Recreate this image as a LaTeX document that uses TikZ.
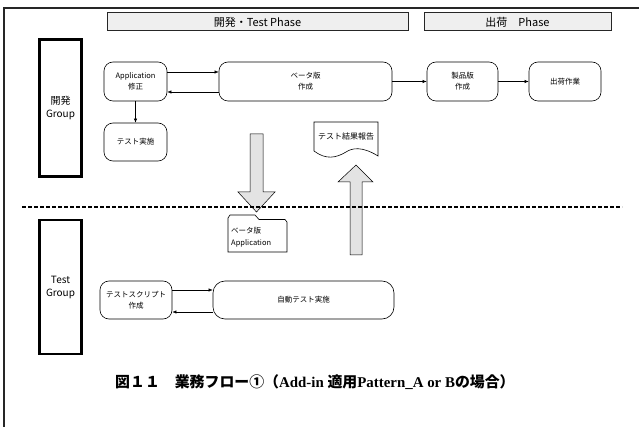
\documentclass[tikz,border=0pt]{standalone}
\usepackage{fontspec}
\setmainfont{Noto Sans CJK JP}
\newfontfamily\capserif{Liberation Serif}
\newfontfamily\capjp{Noto Sans CJK JP}
\usetikzlibrary{arrows.meta}
\definecolor{hdrgray}{HTML}{EFEFEF}
\definecolor{blkgray}{HTML}{E3E3E3}
\begin{document}
\begin{tikzpicture}[x=1pt,y=-1pt,
  proc/.style={draw, line width=0.6pt, rounded corners=9pt, align=center,
    font=\fontsize{7.5}{11}\selectfont, inner sep=0pt},
  grp/.style={draw, line width=2.8pt, align=center,
    font=\fontsize{10}{13}\selectfont, inner sep=0pt},
  hdr/.style={draw=black!85, fill=hdrgray, line width=1pt,
    font=\fontsize{11}{13}\selectfont, inner sep=0pt},
  flow/.style={-{Latex[length=4pt,width=3.2pt]}, line width=0.5pt},
  blk/.style={draw, fill=blkgray, line width=0.5pt},
  small/.style={font=\fontsize{7.5}{10}\selectfont, inner sep=0pt}
]
\useasboundingbox (0,0) rectangle (639,427);
% frame
\draw[line width=2pt, black!85] (4,427) -- (4,8) -- (639,8);

% phase headers
\node[hdr, minimum width=301pt, minimum height=18pt] (ph1) at (257.5,22) {開発・Test Phase};
\node[hdr, minimum width=187pt, minimum height=18pt] (ph2) at (517.5,22) {出荷　Phase};

% groups
\node[grp, minimum width=42pt, minimum height=137pt] (g1) at (60.5,108) {開発\\Group};
\node[grp, minimum width=42pt, minimum height=134pt] (g2) at (60.5,287) {Test\\Group};

% process boxes
\node[proc, minimum width=63pt, minimum height=39pt] (app) at (135.5,81.5) {Application\\修正};
\node[proc, minimum width=173pt, minimum height=39pt] (beta) at (305.5,81.5) {ベータ版\\作成};
\node[proc, minimum width=71pt, minimum height=39pt] (prod) at (462.5,81.5) {製品版\\作成};
\node[proc, minimum width=72pt, minimum height=39pt] (ship) at (565,81.5) {出荷作業};
\node[proc, minimum width=63pt, minimum height=38pt] (texec) at (135.5,142) {テスト実施};
\node[proc, minimum width=72pt, minimum height=38pt] (script) at (136,300) {テストスクリプト\\作成};
\node[proc, minimum width=181pt, minimum height=38pt, rounded corners=12pt] (auto) at (303.5,300) {自動テスト実施};

% connectors
\draw[flow] ([yshift=9.5pt]app.east) -- ([yshift=9.5pt]beta.west);
\draw[flow] ([yshift=-10.5pt]beta.west) -- ([yshift=-10.5pt]app.east);
\draw[flow] (app.south) -- (texec.north);
\draw[flow] (beta.east) -- (prod.west);
\draw[flow] (prod.east) -- (ship.west);
\draw[flow] ([yshift=10pt]script.east) -- ([yshift=10pt]auto.west);
\draw[flow] ([yshift=-12pt]auto.west) -- ([yshift=-12pt]script.east);

% document shape
\draw[line width=0.6pt, fill=white] (314,151) -- (314,122) -- (378,122) -- (378,156)
  .. controls (362,146) and (352,148) .. (346,152)
  .. controls (336,158) and (326,160) .. (314,151) -- cycle;
\node[small, font=\fontsize{8}{10}\selectfont] (rep) at (346,136) {テスト結果報告};

% folder shape
\draw[line width=0.6pt, fill=white] (228,252) -- (228,218) -- (230,215) -- (255,215)
  -- (259,219.5) -- (285,219.5) -- (287,222) -- (287,252) -- cycle;
\node[small, anchor=west] (fold1) at (231,231) {ベータ版};
\node[small, anchor=west] (fold2) at (231,243) {Application};

% block arrows
\draw[blk] (250,134) -- (263,134) -- (263,192) -- (275,192) -- (256.5,212)
  -- (238,192) -- (250,192) -- cycle;
\draw[blk] (350,255) -- (362,255) -- (362,182) -- (373,182) -- (356,165)
  -- (338,182) -- (350,182) -- cycle;

% dashed separator
\draw[line width=1.3pt, dash pattern=on 4pt off 2pt] (22,207) -- (622,207);

% caption
\node[anchor=west, inner sep=0pt, font=\fontsize{14.9}{16}\selectfont\bfseries] (cap) at (115,382)
  {\capjp\bfseries 図１１　業務フロー①（{\capserif\bfseries Add-in }適用{\capserif\bfseries Pattern\_A or B}の場合）};
\end{tikzpicture}
\end{document}
